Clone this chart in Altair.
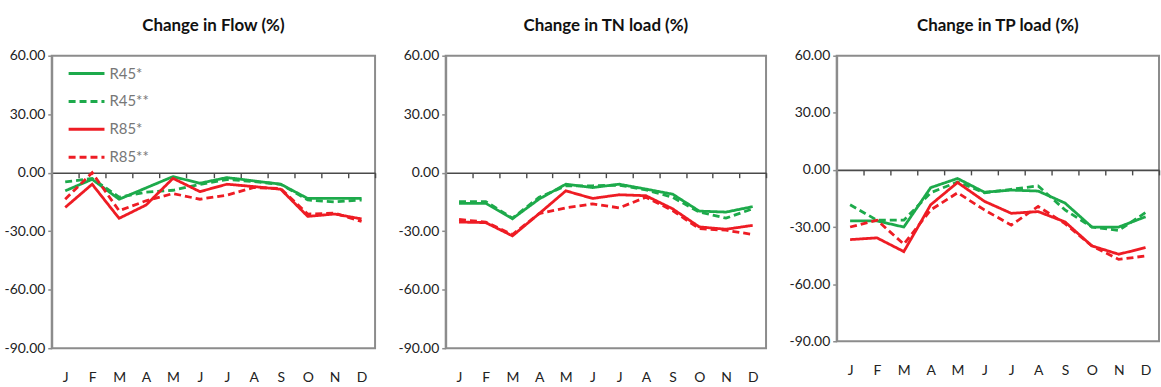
import altair as alt
import pandas as pd

# Month initials along the category axis
months = ["J", "F", "M", "A", "M", "J", "J", "A", "S", "O", "N", "D"]
series_names = ["R45*", "R45**", "R85*", "R85**"]
series_colors = ["#1daa4b", "#1daa4b", "#ee1c24", "#ee1c24"]
series_dashes = [[1, 0], [7, 4], [1, 0], [7, 4]]

# Monthly change in flow (%)
flow_r45 = [-9.3, -3.4, -13.6, -7.8, -2.0, -5.4, -2.5, -4.2, -5.9, -13.2, -13.2, -13.2]
flow_r45b = [-4.7, -3.0, -12.5, -10.0, -9.0, -6.0, -3.5, -4.5, -6.0, -14.0, -15.0, -14.0]
flow_r85 = [-17.8, -5.9, -23.4, -16.6, -2.9, -9.7, -5.9, -7.1, -8.5, -22.4, -21.2, -23.7]
flow_r85b = [-13.6, 0.0, -19.5, -14.4, -10.7, -13.6, -11.5, -7.6, -8.1, -21.2, -20.7, -25.0]

# Monthly change in TN load (%)
tn_r45 = [-15.7, -15.7, -23.6, -13.5, -5.9, -7.6, -5.9, -8.4, -11.0, -19.7, -20.2, -17.4]
tn_r45b = [-14.8, -14.8, -23.3, -12.6, -6.7, -6.7, -6.4, -8.8, -12.6, -20.2, -23.3, -18.5]
tn_r85 = [-25.3, -25.6, -32.4, -21.0, -9.3, -13.2, -11.3, -11.8, -18.5, -27.8, -29.0, -27.0]
tn_r85b = [-24.0, -25.3, -31.7, -21.0, -18.0, -16.0, -18.0, -12.6, -19.4, -28.7, -29.5, -31.7]

# Monthly change in TP load (%)
tp_r45 = [-26.8, -26.8, -30.0, -9.3, -4.5, -11.7, -10.6, -11.1, -17.4, -30.0, -30.0, -24.6]
tp_r45b = [-18.3, -26.4, -26.4, -12.0, -6.3, -12.0, -10.2, -8.4, -21.0, -30.0, -31.8, -22.4]
tp_r85 = [-36.6, -35.7, -42.9, -18.3, -6.6, -16.5, -22.8, -21.9, -27.3, -39.9, -44.3, -40.8]
tp_r85b = [-30.0, -26.4, -39.0, -21.0, -12.0, -21.0, -29.0, -19.2, -28.2, -39.9, -47.0, -45.2]

panels = [
    ("Change in Flow (%)", [flow_r45, flow_r45b, flow_r85, flow_r85b], 325, 294),
    ("Change in TN load (%)", [tn_r45, tn_r45b, tn_r85, tn_r85b], 322, 294),
    ("Change in TP load (%)", [tp_r45, tp_r45b, tp_r85, tp_r85b], 324, 287),
]

FONT = "Lato"
month_expr = "[" + ",".join("'%s'" % m for m in months) + "][datum.value]"
# plain hyphen for negative numbers, two decimals
value_expr = "(datum.value < 0 ? '-' : '') + format(abs(datum.value), '.2f')"
Y_AXIS_SPACE = 48


def make_panel(title, values, w, h, show_legend):
    rows = []
    for name, vals in zip(series_names, values):
        for i, v in enumerate(vals):
            rows.append({"month": i, "series": name, "value": v})
    df = pd.DataFrame(rows)

    # distance in pixels from the bottom of the plot up to the zero line
    zero_off = h * 90.0 / 150.0

    legend = None
    if show_legend:
        legend = alt.Legend(
            title=None,
            orient="none",
            legendX=15,
            legendY=-2,
            symbolType="stroke",
            symbolSize=1300,
            symbolStrokeWidth=3,
            labelFont=FONT,
            labelFontSize=15,
            labelColor="#777777",
            rowPadding=0,
            labelOffset=3,
        )

    return (
        alt.Chart(df, title=alt.Title(title, font=FONT, fontSize=17, fontWeight="bold",
                                      color="#111111", offset=14))
        .mark_line(strokeWidth=2.8)
        .encode(
            x=alt.X(
                "month:O",
                bandPosition=0.5,
                scale=alt.Scale(type="band", paddingInner=0, paddingOuter=0),
                axis=alt.Axis(
                    title=None,
                    orient="bottom",
                    offset=-zero_off,
                    domainColor="#4a4a4a",
                    domainWidth=1.6,
                    tickBand="extent",
                    tickColor="#4a4a4a",
                    tickWidth=1.4,
                    tickSize=5,
                    labelExpr=month_expr,
                    labelAngle=0,
                    labelPadding=zero_off + 17,
                    labelFont=FONT,
                    labelFontSize=14,
                    labelColor="#222222",
                    grid=False,
                ),
            ),
            y=alt.Y(
                "value:Q",
                scale=alt.Scale(domain=[-90, 60], nice=False, zero=False),
                axis=alt.Axis(
                    title=None,
                    values=[-90, -60, -30, 0, 30, 60],
                    labelExpr=value_expr,
                    domainColor="#8c8c8c",
                    domainWidth=2,
                    tickColor="#8c8c8c",
                    tickWidth=1.5,
                    tickSize=4,
                    labelPadding=3,
                    labelFont=FONT,
                    labelFontSize=14,
                    labelColor="#222222",
                    grid=False,
                    minExtent=Y_AXIS_SPACE,
                    maxExtent=Y_AXIS_SPACE,
                ),
            ),
            color=alt.Color(
                "series:N",
                scale=alt.Scale(domain=series_names, range=series_colors),
                legend=legend,
            ),
            strokeDash=alt.StrokeDash(
                "series:N",
                scale=alt.Scale(domain=series_names, range=series_dashes),
                legend=legend,
            ),
            detail="series:N",
        )
        .properties(width=w, height=h)
    )


charts = [make_panel(t, v, w, h, i == 0) for i, (t, v, w, h) in enumerate(panels)]

chart = (
    alt.hconcat(*charts, spacing=20)
    .resolve_scale(x="independent", y="independent")
    .configure_view(stroke="#8c8c8c", strokeWidth=2)
    .properties(padding={"left": 3, "top": 15, "right": 0, "bottom": 0}, background="white")
)

chart.save("out.html", embed_options={"renderer": "svg", "actions": False})
